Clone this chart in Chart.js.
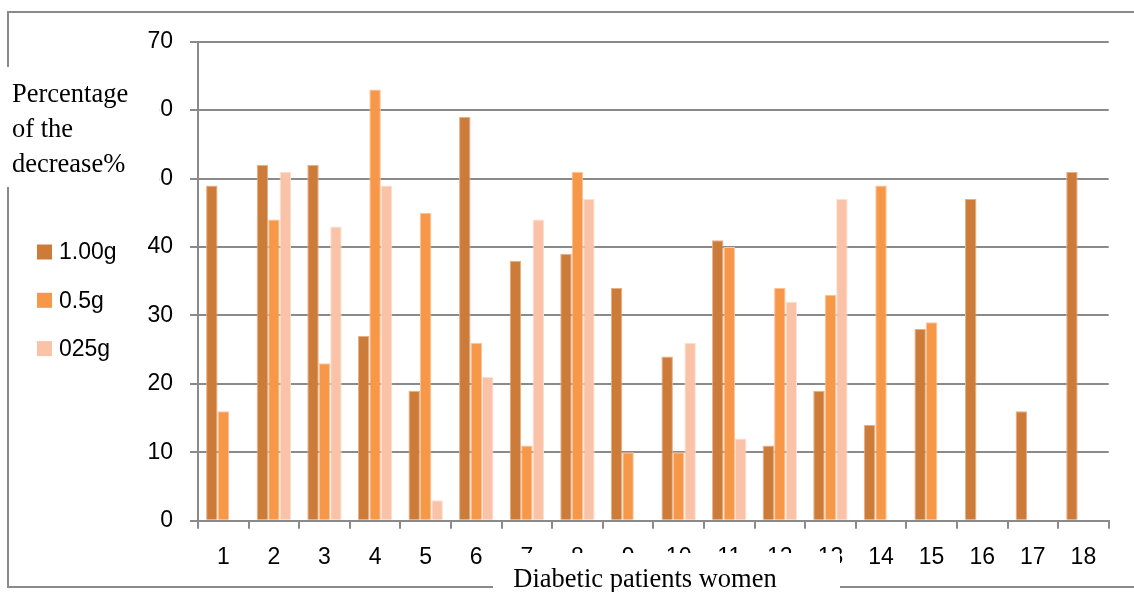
<!DOCTYPE html>
<html>
<head>
<meta charset="utf-8">
<script src="https://cdn.jsdelivr.net/npm/chart.js@4.4.1/dist/chart.umd.min.js"></script>
<style>
  html, body { margin: 0; padding: 0; background: #fff; }
  #chart { display: block; }
</style>
</head>
<body>
<canvas id="chart" width="1134" height="592"></canvas>
<script>
// Data
const patients = ['1', '2', '3', '4', '5', '6', '7', '8', '9', '10', '11', '12', '13', '14', '15', '16', '17', '18'];
const dose100 = [49, 52, 52, 27, 19, 59, 38, 39, 34, 24, 41, 11, 19, 14, 28, 47, 16, 51];
const dose05 = [16, 44, 23, 63, 45, 26, 11, 51, 10, 10, 40, 34, 33, 49, 29, null, null, null];
const dose025 = [null, 51, 43, 49, 3, 21, 44, 47, null, 26, 12, 32, 47, null, null, null, null, null];
const yTicks = [0, 10, 20, 30, 40, 50, 60, 70];
const seriesNames = ['1.00g', '0.5g', '025g'];
const yTitle = ['Percentage', 'of the', 'decrease%'];
const xTitle = 'Diabetic patients women';

const colors = ['#cd7b39', '#f79748', '#fac2a6'];
const edges = ['#e3b089', '#fbc39a', '#fde0d2'];
const gridColor = '#8a8a8a';
const sansFont = "'Liberation Sans', Arial, sans-serif";
const serifFont = "'Liberation Serif', 'Times New Roman', serif";

/**
 * Frame, axis titles on white boxes and the legend
 */
const decorPlugin = {
  id: 'decor',
  beforeDraw(chart) {
    const ctx = chart.ctx;
    ctx.save();
    ctx.fillStyle = '#fff';
    ctx.fillRect(0, 0, chart.width, chart.height);
    ctx.restore();
  },
  afterDraw(chart) {
    const ctx = chart.ctx;
    ctx.save();

    // outer frame (open on the right)
    ctx.strokeStyle = gridColor;
    ctx.lineWidth = 2;
    ctx.beginPath();
    ctx.moveTo(chart.width, 12);
    ctx.lineTo(8, 12);
    ctx.lineTo(8, 587);
    ctx.lineTo(chart.width, 587);
    ctx.stroke();

    // title boxes sit over the frame and part of the tick labels
    ctx.fillStyle = '#fff';
    ctx.fillRect(0, 67, 159.5, 120);
    ctx.fillRect(493, 553, 347, 40);

    ctx.fillStyle = '#000';
    ctx.font = '26.5px ' + serifFont;
    ctx.textBaseline = 'alphabetic';
    ctx.textAlign = 'left';
    yTitle.forEach((line, i) => ctx.fillText(line, 12, 102 + i * 35));
    ctx.textAlign = 'center';
    ctx.fillText(xTitle, 645, 587);

    // legend
    ctx.textAlign = 'left';
    ctx.textBaseline = 'middle';
    ctx.font = '23px ' + sansFont;
    chart.data.datasets.forEach((ds, i) => {
      const cy = 252 + i * 48.3;
      ctx.fillStyle = ds.backgroundColor;
      ctx.fillRect(37, cy - 7.5, 15, 15);
      ctx.fillStyle = '#000';
      ctx.fillText(ds.label, 59, cy + 1);
    });

    ctx.restore();
  }
};

const datasets = [dose100, dose05, dose025].map((values, i) => ({
  label: seriesNames[i],
  data: values,
  backgroundColor: colors[i],
  borderColor: edges[i],
  borderWidth: 1,
  categoryPercentage: 0.68,
  barPercentage: 1.0
}));

const ctx = document.getElementById('chart').getContext('2d');
const chart = new Chart(ctx, {
  type: 'bar',
  data: { labels: patients, datasets: datasets },
  options: {
    responsive: false,
    animation: false,
    layout: {
      padding: { left: 0, top: 41.7, right: 25.3, bottom: 0 }
    },
    plugins: {
      legend: { display: false },
      tooltip: { enabled: false }
    },
    scales: {
      x: {
        afterFit(scale) { scale.height = 71.3; },
        grid: {
          display: true,
          drawOnChartArea: false,
          drawTicks: true,
          tickLength: 8,
          color: gridColor,
          lineWidth: 2
        },
        border: { display: true, color: gridColor, width: 2 },
        ticks: {
          color: '#000',
          padding: 15,
          maxRotation: 0,
          font: { size: 23, family: sansFont }
        }
      },
      y: {
        min: 0,
        max: 70,
        afterFit(scale) { scale.width = 198; },
        afterBuildTicks(scale) {
          scale.ticks = yTicks.map(v => ({ value: v }));
        },
        grid: {
          color: gridColor,
          lineWidth: 2,
          tickLength: 8,
          drawTicks: true
        },
        border: { display: true, color: gridColor, width: 2 },
        ticks: {
          color: '#000',
          padding: 17,
          font: { size: 23, family: sansFont }
        }
      }
    }
  },
  plugins: [decorPlugin]
});
</script>
</body>
</html>
